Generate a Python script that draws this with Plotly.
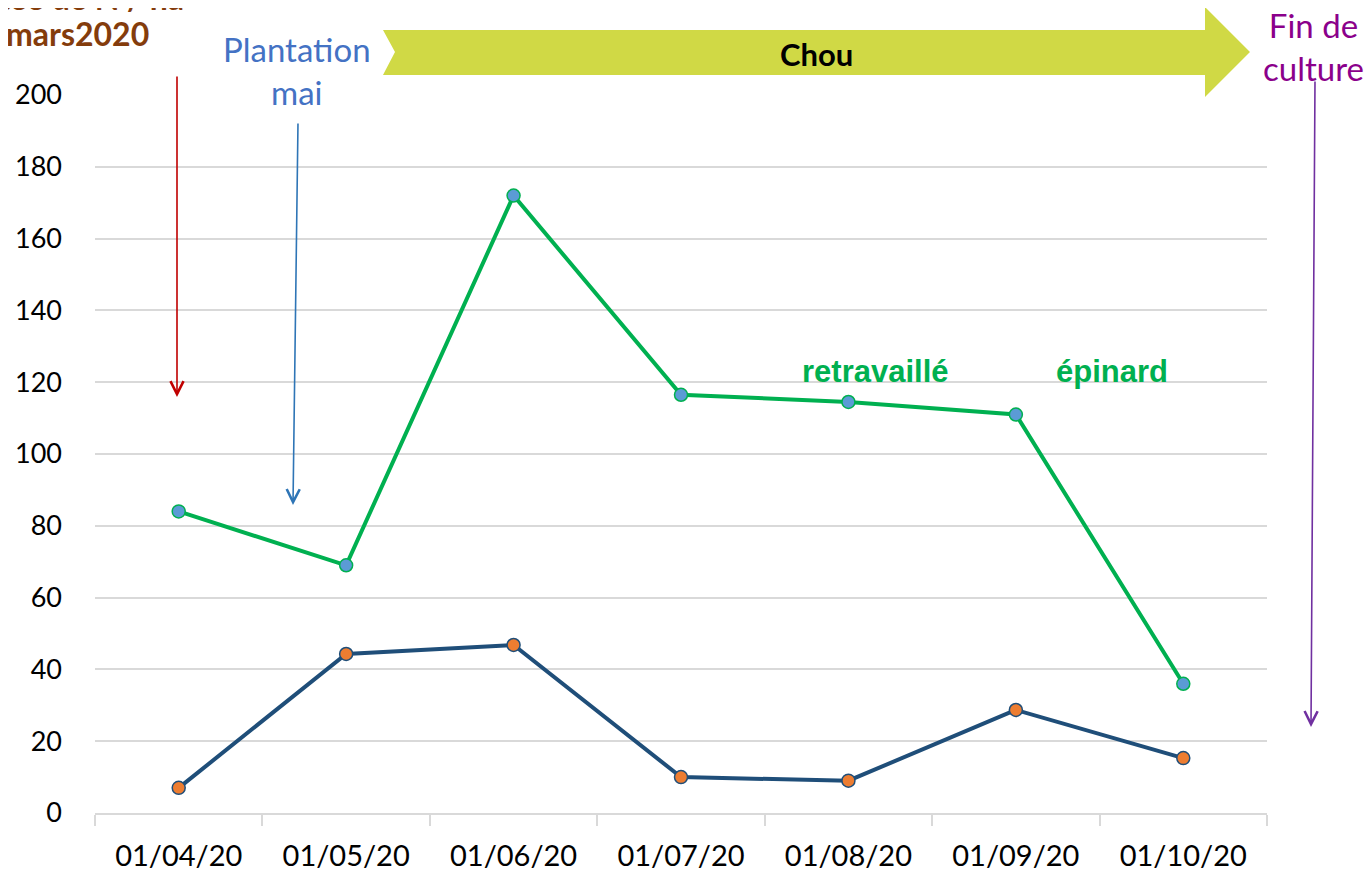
import plotly.graph_objects as go

dates = ["01/04/20", "01/05/20", "01/06/20", "01/07/20", "01/08/20", "01/09/20", "01/10/20"]
green_values = [84, 69, 172, 116.5, 114.5, 111, 36]
blue_values = [7, 44.3, 46.8, 10, 9, 28.7, 15.3]
y_ticks = [0, 20, 40, 60, 80, 100, 120, 140, 160, 180, 200]

OFF = 8  # page body offset
W, H = 1372 - OFF, 876 - OFF
X0, X1, Y0, Y1 = 95, 1267, 95, 813  # plot area in reference pixels
L, T = X0 - OFF, Y0 - OFF
R, B = W - (X1 - OFF), H - (Y1 - OFF)
PW, PH = X1 - X0, Y1 - Y0

def px(x):
    return (x - X0) / PW

def py(y):
    return (Y1 - y) / PH

fig = go.Figure()
fig.add_trace(go.Scatter(
    x=dates, y=green_values, mode="lines+markers",
    line=dict(color="#00b050", width=4),
    marker=dict(size=13, color="#5b9bd5", line=dict(color="#00b050", width=1.5)),
    showlegend=False))
fig.add_trace(go.Scatter(
    x=dates, y=blue_values, mode="lines+markers",
    line=dict(color="#1f4e79", width=4),
    marker=dict(size=13, color="#ed7d31", line=dict(color="#1f4e79", width=1.5)),
    showlegend=False))

label_font = "Lato, 'Open Sans', sans-serif"

fig.update_layout(
    width=W, height=H,
    margin=dict(l=L, r=R, t=T, b=B, autoexpand=False),
    paper_bgcolor="white", plot_bgcolor="white",
    xaxis=dict(type="category", tickson="boundaries", ticks="outside", ticklen=11,
               tickcolor="#d9d9d9", tickwidth=2, showline=True, linecolor="#d9d9d9",
               linewidth=2, showgrid=False, tickfont=dict(family=label_font, size=29, color="black"),
               range=[-0.5, 6.5], ticklabelstandoff=16, automargin=False),
    yaxis=dict(range=[0, 200], tickvals=y_ticks, showgrid=True, gridcolor="#d9d9d9",
               gridwidth=1.5, zeroline=False, showline=False, automargin=False,
               tickfont=dict(family=label_font, size=27, color="black"), ticks="", ticklabelstandoff=32),
)

# Chou arrow banner
pts = [(383, 30), (1205, 30), (1205, 7), (1250, 52), (1205, 97), (1205, 75), (383, 75), (395, 52)]
path = "M " + " L ".join(f"{px(a):.5f},{py(b):.5f}" for a, b in pts) + " Z"
fig.add_shape(type="path", path=path, xref="paper", yref="paper",
              fillcolor="#d0d945", line=dict(width=0), layer="above")

brown = "#843c0c"
annotations = [
    dict(text="<b>Chou</b>", x=px(817), y=py(54), showarrow=False,
         font=dict(family="Lato, sans-serif", size=31, color="black")),
    dict(text="<b>Quantité apportée de N / ha</b>", x=px(186), y=py(-3), xanchor="right",
         showarrow=False, font=dict(family="Lato, sans-serif", size=32, color=brown)),
    dict(text="<b>mars2020</b>", x=px(4), y=py(34), xanchor="left",
         showarrow=False, font=dict(family="Lato, sans-serif", size=32, color=brown)),
    dict(text="Plantation<br>mai", x=px(297), y=py(70), showarrow=False,
         font=dict(family="Lato, sans-serif", size=33, color="#4472c4")),
    dict(text="Fin de<br>culture", x=px(1313), y=py(47), showarrow=False,
         font=dict(family="Lato, sans-serif", size=33, color="#8b008b")),
    dict(text="<b>retravaillé</b>", x=px(875), y=py(372), showarrow=False,
         font=dict(family="'Liberation Sans', Arial, sans-serif", size=31, color="#00b050")),
    dict(text="<b>épinard</b>", x=px(1112), y=py(372), showarrow=False,
         font=dict(family="'Liberation Sans', Arial, sans-serif", size=31, color="#00b050")),
    # arrows
    dict(text="", x=px(177), y=py(397), ax=0, ay=-322, showarrow=True, arrowhead=5,
         arrowsize=1.6, arrowwidth=1.6, arrowcolor="#c00000"),
    dict(text="", x=px(293), y=py(505), ax=5, ay=-383, showarrow=True, arrowhead=5,
         arrowsize=1.6, arrowwidth=1.6, arrowcolor="#2e75b6"),
    dict(text="", x=px(1311), y=py(727), ax=4, ay=-647, showarrow=True, arrowhead=5,
         arrowsize=1.6, arrowwidth=1.6, arrowcolor="#7030a0"),
]
for a in annotations:
    a.setdefault("xref", "paper")
    a.setdefault("yref", "paper")
    a.setdefault("xanchor", "center")
    a.setdefault("yanchor", "middle")
    fig.add_annotation(**a)

fig.write_html("out.html")
